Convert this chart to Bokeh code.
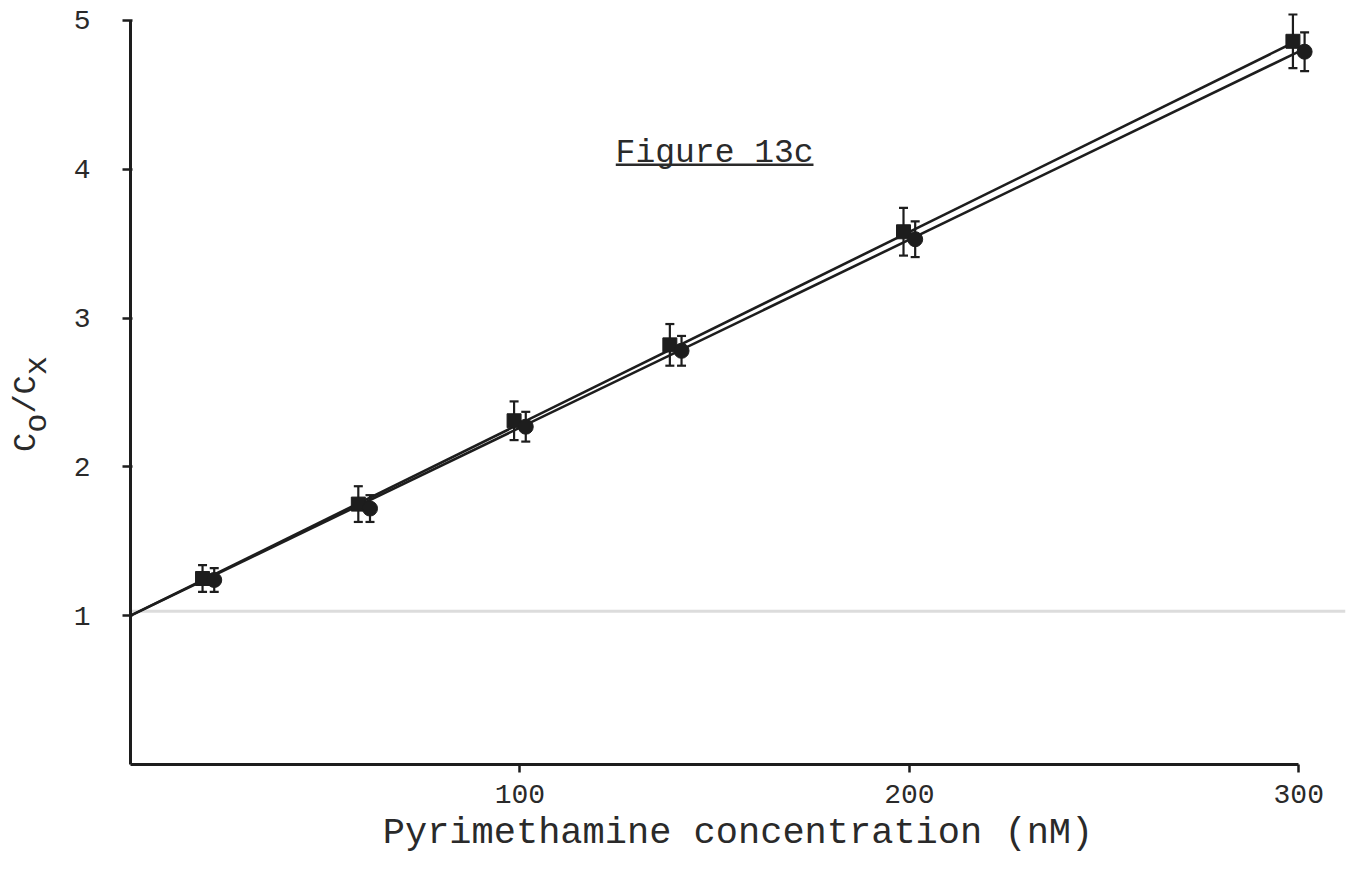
import numpy as np
from bokeh.plotting import figure
from bokeh.layouts import row
from bokeh.models import Range1d, FixedTicker, Whisker, ColumnDataSource, Label, Span, TeeHead
from bokeh.core.properties import value
from bokeh.transform import dodge
from bokeh.embed import file_html
from bokeh.resources import INLINE

# ---- data ----
conc = [20, 60, 100, 140, 200, 300]                 # Pyrimethamine concentration (nM)
ratio_a = [1.25, 1.75, 2.31, 2.82, 3.58, 4.86]      # Co/Cx, series A
err_a = [0.09, 0.12, 0.13, 0.14, 0.16, 0.18]
ratio_b = [1.24, 1.72, 2.27, 2.78, 3.53, 4.79]      # Co/Cx, series B
err_b = [0.08, 0.09, 0.10, 0.10, 0.12, 0.13]
x_ticks = [100, 200, 300]
y_ticks = [1, 2, 3, 4, 5]
intercept = 1.0
title_text = "Figure 13c"
x_label = "Pyrimethamine concentration (nM)"
y_label_parts = ["C", "o", "/", "C", "x"]          # C_o / C_x
y_label_is_sub = [False, True, False, False, True]

INK = "#1d1d1d"
TXT = "#2a2a2a"
MONO = "Liberation Mono"

Y_MAX = 5.067
PX_PER_Y = 148.8
B_TOP, B_BOTTOM = 10, 106

x = np.array(conc, dtype=float)


def fit_slope(y):
    y = np.array(y, dtype=float)
    return float(np.sum(x * (y - intercept)) / np.sum(x * x))


src_a = ColumnDataSource(dict(x=conc, y=ratio_a,
                              lo=[r - e for r, e in zip(ratio_a, err_a)],
                              hi=[r + e for r, e in zip(ratio_a, err_a)]))
src_b = ColumnDataSource(dict(x=conc, y=ratio_b,
                              lo=[r - e for r, e in zip(ratio_b, err_b)],
                              hi=[r + e for r, e in zip(ratio_b, err_b)]))

# ---------------- left strip holding the rotated y-axis label ----------------
LW, H = 70, 870
lp = figure(width=LW, height=H, x_range=Range1d(0, LW), y_range=Range1d(0, Y_MAX),
            x_axis_type=None, y_axis_type=None, title=None,
            output_backend="svg", toolbar_location=None,
            min_border_left=0, min_border_right=0,
            min_border_top=B_TOP, min_border_bottom=B_BOTTOM)
lp.outline_line_color = None
lp.grid.visible = False
lp.background_fill_color = "white"
lp.border_fill_color = "white"

yl_font = 32
adv = 0.6 * yl_font / PX_PER_Y
base_x, base_y = 26, 2.10
lsrc = ColumnDataSource(dict(
    x=[base_x] * len(y_label_parts),
    y=[base_y + i * adv for i in range(len(y_label_parts))],
    t=y_label_parts,
    xo=[11 if s else 0 for s in y_label_is_sub],
))
lp.text(x="x", y="y", text="t", x_offset="xo", source=lsrc, angle=np.pi / 2,
        text_font=value(MONO), text_font_size=f"{yl_font}px", text_color=TXT,
        text_align="left", text_baseline="alphabetic")

# ---------------- main plot ----------------
p = figure(width=1350 - LW, height=H,
           x_range=Range1d(0, 312), y_range=Range1d(0, Y_MAX),
           output_backend="svg", toolbar_location=None,
           min_border_left=128 - LW, min_border_right=5,
           min_border_top=B_TOP, min_border_bottom=B_BOTTOM)
p.background_fill_color = "white"
p.border_fill_color = "white"
p.outline_line_color = None
p.grid.visible = False

# faint scanner line
p.add_layout(Span(location=1.03, dimension="width", line_color="#dcdcdc",
                  line_width=3, level="underlay"))

# fitted lines through (0, 1)
x_line = [0, max(conc)]
for ratios in (ratio_a, ratio_b):
    k = fit_slope(ratios)
    p.line(x_line, [intercept + k * xv for xv in x_line], line_color=INK, line_width=2.6)

# error bars
for src, off in ((src_a, -1.5), (src_b, 1.5)):
    w = Whisker(base=dodge("x", off), upper="hi", lower="lo", source=src,
                line_color=INK, line_width=2.2,
                upper_head=TeeHead(size=9, line_color=INK, line_width=2.2),
                lower_head=TeeHead(size=9, line_color=INK, line_width=2.2))
    p.add_layout(w)

p.scatter(dodge("x", -1.5), "y", source=src_a, marker="square", size=14,
          fill_color=INK, line_color=INK)
p.scatter(dodge("x", 1.5), "y", source=src_b, marker="circle", size=15,
          fill_color=INK, line_color=INK)

# axes
xa = p.xaxis[0]
xa.ticker = FixedTicker(ticks=x_ticks)
xa.bounds = (0, 300)
ya = p.yaxis[0]
ya.ticker = FixedTicker(ticks=y_ticks)
ya.bounds = (0, 5)
for ax in (xa, ya):
    ax.axis_line_color = INK
    ax.axis_line_width = 3
    ax.major_tick_line_color = INK
    ax.major_tick_line_width = 2.5
    ax.minor_tick_line_color = None
    ax.major_label_text_font = MONO
    ax.major_label_text_font_size = "28px"
    ax.major_label_text_color = TXT
xa.major_tick_out = 8
xa.major_tick_in = 0
xa.major_label_standoff = 12
xa.axis_label = x_label
xa.axis_label_text_font = MONO
xa.axis_label_text_font_size = "37px"
xa.axis_label_text_font_style = "normal"
xa.axis_label_text_color = TXT
xa.axis_label_standoff = 6
ya.major_tick_out = 8
ya.major_tick_in = 2
ya.major_label_standoff = 32

# title with underline
t_x, t_y = 150, 4.106
t_font = 33
p.add_layout(Label(x=t_x, y=t_y, text=title_text, text_font=MONO,
                   text_font_size=f"{t_font}px", text_color=TXT,
                   text_align="center", text_baseline="alphabetic"))
half_w = len(title_text) * 0.6 * t_font / 2 / 3.9
p.segment(x0=[t_x - half_w], y0=[t_y - 0.075], x1=[t_x + half_w], y1=[t_y - 0.075],
          line_color=TXT, line_width=2.5)

layout = row(lp, p, spacing=0)
open("out.html", "w").write(file_html(layout, INLINE))
